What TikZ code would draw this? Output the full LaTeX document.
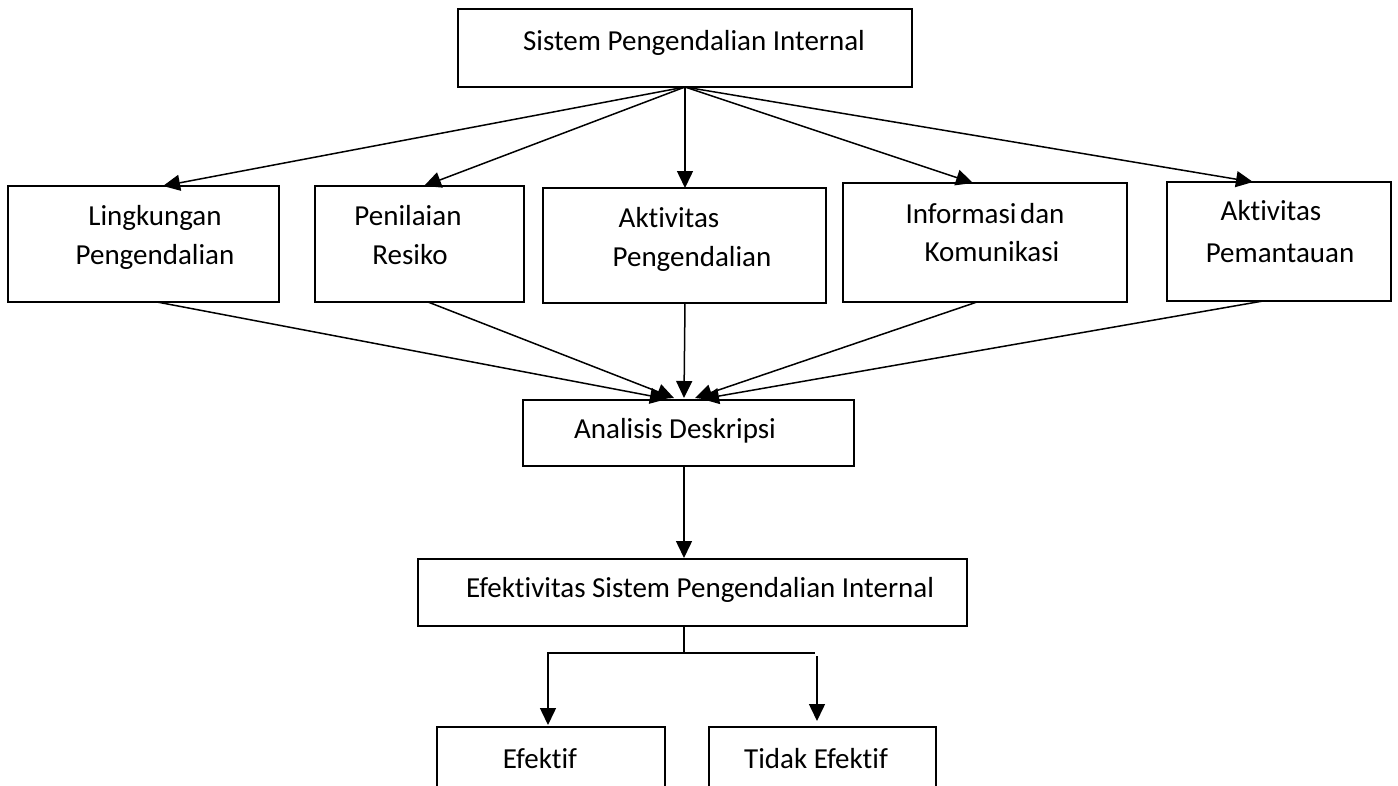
\documentclass[tikz,border=0pt]{standalone}
\usepackage{fontspec}
\setmainfont{Carlito}[Ligatures=NoCommon]
\usetikzlibrary{arrows.meta,calc}
\tikzset{
  box/.style={draw, line width=1.1pt, inner sep=0pt, outer sep=0pt, anchor=north west},
  lbl/.style={anchor=base, inner sep=0pt, font=\fontsize{29}{35}\selectfont},
  arr/.style={line width=1.5pt, -{Triangle[length=17pt,width=16pt]}},
  ln/.style={line width=1.5pt}
}
\begin{document}
\begin{tikzpicture}[x=1pt,y=-1pt]
\fill[white] (0,0) rectangle (1398,785);
\clip (0,0) rectangle (1398,785);
% boxes
\node[box, minimum width=454pt, minimum height=78pt] (top) at (458,9) {};
\node[box, minimum width=271pt, minimum height=116pt] (b1) at (8,186) {};
\node[box, minimum width=209pt, minimum height=116pt] (b2) at (315,186) {};
\node[box, minimum width=283pt, minimum height=115pt] (b3) at (543,188) {};
\node[box, minimum width=284pt, minimum height=119pt] (b4) at (843,183) {};
\node[box, minimum width=224pt, minimum height=119pt] (b5) at (1167,182) {};
\node[box, minimum width=331pt, minimum height=66pt] (ana) at (523,400) {};
\node[box, minimum width=549pt, minimum height=67pt] (eff) at (418,559) {};
\node[box, minimum width=228pt, minimum height=80pt] (e1) at (437,727) {};
\node[box, minimum width=227pt, minimum height=80pt] (e2) at (709,727) {};
% texts
\node[lbl] (ttop) at (694,50) {Sistem Pengendalian Internal};
\node[lbl] (t1a) at (155,225) {Lingkungan};
\node[lbl] (t1b) at (155,264) {Pengendalian};
\node[lbl] (t2a) at (408,225) {Penilaian};
\node[lbl] (t2b) at (410,264) {Resiko};
\node[lbl] (t3a) at (669,227) {Aktivitas};
\node[lbl] (t3b) at (692,266) {Pengendalian};
\node[lbl] (t4a) at (985,223) {Informasi\hspace{-3pt} dan};
\node[lbl] (t4b) at (992,261) {Komunikasi};
\node[lbl] (t5a) at (1271,220) {Aktivitas};
\node[lbl] (t5b) at (1280,262) {Pemantauan};
\node[lbl] (tana) at (675,438) {Analisis Deskripsi};
\node[lbl] (teff) at (700,597) {Efektivitas Sistem Pengendalian Internal};
\node[lbl] (te1) at (540,768) {Efektif};
\node[lbl] (te2) at (816,768) {Tidak Efektif};
% connector end points on box edges
\coordinate (b1in) at (163,186);
\coordinate (b2in) at (424,186);
\coordinate (b3in) at (685,188);
\coordinate (b4in) at (973,183);
\coordinate (b5in) at (1253,182);
\coordinate (b1out) at (157,302);
\coordinate (b2out) at (428,302);
\coordinate (b3out) at (685,303);
\coordinate (b4out) at (977,302);
\coordinate (b5out) at (1263,301);
\coordinate (ain1) at (667,399);
\coordinate (ain2) at (674,398);
\coordinate (ain3) at (684,398);
\coordinate (ain4) at (695,398);
\coordinate (ain5) at (702,399);
\coordinate (aout) at (684,466);
\coordinate (ein) at (684,558);
\coordinate (eout) at (684,626);
\coordinate (fork) at (684,653);
\coordinate (forkL) at (547,653);
\coordinate (forkR) at (815,653);
\coordinate (dL) at (548,653);
\coordinate (dR) at (817,656);
\coordinate (e1in) at (548,725);
\coordinate (e2in) at (817,721);
% connectors
\draw[arr] (top.south) -- (b1in);
\draw[arr] (top.south) -- (b2in);
\draw[arr] (top.south) -- (b3in);
\draw[arr] (top.south) -- (b4in);
\draw[arr] (top.south) -- (b5in);
\draw[arr] (b1out) -- (ain1);
\draw[arr] (b2out) -- (ain2);
\draw[arr] (b3out) -- (ain3);
\draw[arr] (b4out) -- (ain4);
\draw[arr] (b5out) -- (ain5);
\draw[arr] (aout) -- (ein);
\draw[ln] (eout) -- (fork);
\draw[ln] (forkL) -- (forkR);
\draw[arr] (dL) -- (e1in);
\draw[arr] (dR) -- (e2in);
\end{tikzpicture}
\end{document}
